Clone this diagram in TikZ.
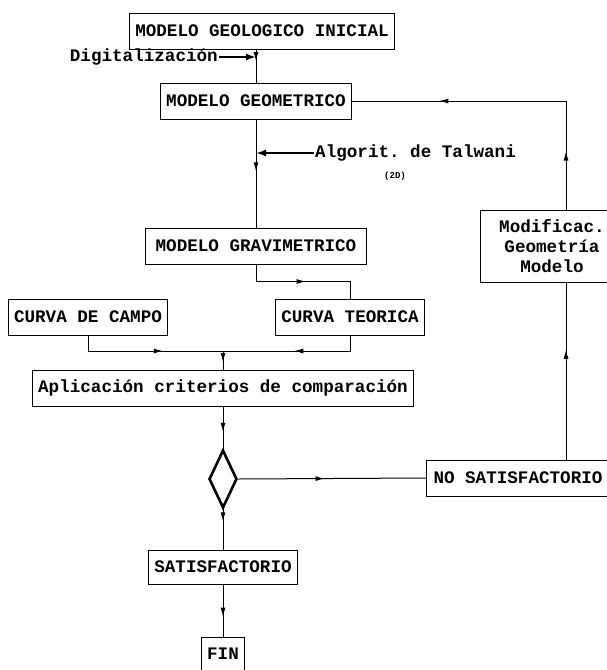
\documentclass[tikz,border=0pt]{standalone}
\usepackage{fontspec}
\setmonofont{Liberation Mono}
\usetikzlibrary{arrows.meta,positioning,shapes.geometric,decorations.markings}

\newcommand{\boxfont}{\fontsize{17.6}{20}\selectfont\ttfamily\bfseries}

\begin{document}
\begin{tikzpicture}[x=1pt,y=-1pt,
  box/.style={draw, line width=1pt, minimum height=36pt, inner xsep=6pt, font=\boxfont},
  conn/.style={line width=1pt},
  midarr/.style={postaction={decorate,decoration={markings,
      mark=at position #1 with {\arrow{Latex[length=9pt,width=5pt]}}}}},
  fatarr/.style={-{Latex[length=10pt,width=7pt]}, line width=2.6pt}]
  \useasboundingbox (0,0) rectangle (607,670);

  % boxes
  \node[box] (geol) at (262,31) {MODELO GEOLOGICO INICIAL};
  \node[box] (geom) at (256,101) {MODELO GEOMETRICO};
  \node[box, inner xsep=10pt] (grav) at (256,246) {MODELO GRAVIMETRICO};
  \node[box] (campo) at (88,317) {CURVA DE CAMPO};
  \node[box] (teor) at (350,317) {CURVA TEORICA};
  \node[box] (apl) at (223,388) {Aplicación criterios de comparación};
  \node[draw, diamond, line width=2.6pt, minimum width=28pt, minimum height=58pt,
    inner sep=0pt] (dec) at (223,479) {};
  \node[box, inner xsep=7pt] (nosat) at (518,478) {NO SATISFACTORIO};
  \node[box, align=center, minimum width=144pt, minimum height=72pt]
    (modif) at (552,246) {Modificac.\\Geometría\\Modelo};
  \node[box, minimum height=34pt] (sat) at (223,567) {SATISFACTORIO};
  \node[box, minimum height=34pt] (fin) at (223,654) {FIN};

  % labels
  \node[font=\boxfont, anchor=east, inner sep=1pt] (digi) at (219,57) {Digitalización};
  \node[font=\boxfont, anchor=west, inner sep=1pt] (talw) at (314,153) {Algorit. de Talwani};
  \node[font=\fontsize{9}{10}\selectfont\ttfamily\bfseries] (dosd) at (395,176) {(2D)};

  % connectors
  \draw[conn, midarr=0.35] (geom.north |- geol.south) -- (geom.north);
  \draw[fatarr, line width=1.8pt] (digi.east) -- (digi -| geom.north);
  \draw[conn, midarr=0.48] (geom.south) -- (grav.north);
  \draw[fatarr] (talw.west) -- (talw -| geom.south);
  \draw[conn, midarr=0.52] (grav.south) -- ++(0,17) -| (teor.north);
  \coordinate (join) at (223,351);
  \draw[conn, midarr=0.6] (campo.south) |- (join);
  \draw[conn, midarr=0.5] (teor.south) |- (join);
  \draw[conn, midarr=0.6] (join) -- (apl.north);
  \draw[conn, midarr=0.6] (apl.south) -- (dec.north);
  \draw[conn, midarr=0.46] (dec.east) -- (nosat.west);
  \draw[conn, midarr=0.3] (dec.south) -- (sat.north);
  \draw[conn, midarr=0.62] (sat.south) -- (fin.north);
  \coordinate (ret) at (566,101);
  \draw[conn, midarr=0.62] (nosat.north -| ret) -- (modif.south -| ret);
  \draw[conn, midarr=0.18, midarr=0.73] (modif.north -| ret) -- (ret) -- (geom.east);
\end{tikzpicture}
\end{document}
